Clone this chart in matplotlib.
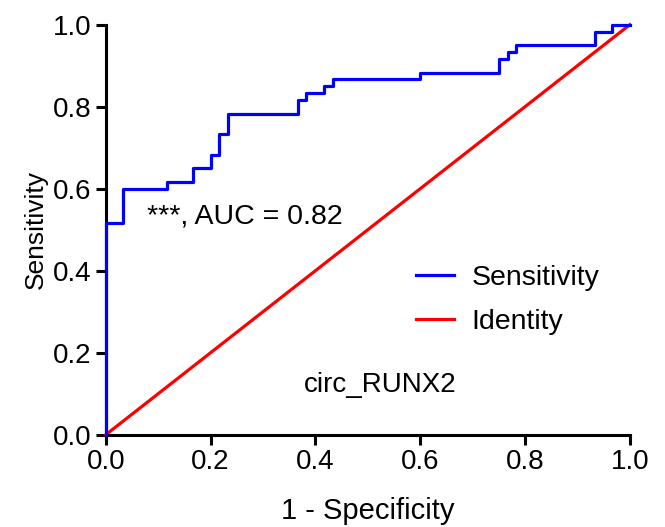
import matplotlib
matplotlib.use("Agg")
import matplotlib.pyplot as plt

# ROC curve step points (1 - specificity, sensitivity)
fpr = [0.0, 0.0, 0.033, 0.033, 0.117, 0.117, 0.167, 0.167, 0.200, 0.200,
       0.217, 0.217, 0.233, 0.233, 0.367, 0.367, 0.383, 0.383, 0.417, 0.417,
       0.433, 0.433, 0.600, 0.600, 0.750, 0.750, 0.767, 0.767, 0.783, 0.783,
       0.933, 0.933, 0.967, 0.967, 1.0]
tpr = [0.0, 0.517, 0.517, 0.600, 0.600, 0.617, 0.617, 0.650, 0.650, 0.683,
       0.683, 0.733, 0.733, 0.783, 0.783, 0.817, 0.817, 0.833, 0.833, 0.850,
       0.850, 0.867, 0.867, 0.883, 0.883, 0.917, 0.917, 0.933, 0.933, 0.950,
       0.950, 0.983, 0.983, 1.0, 1.0]
identity = [0.0, 1.0]
ticks = [0.0, 0.2, 0.4, 0.6, 0.8, 1.0]
tick_labels = ["0.0", "0.2", "0.4", "0.6", "0.8", "1.0"]

plt.rcParams["font.family"] = ["Liberation Sans", "DejaVu Sans"]

fig = plt.figure(figsize=(6.65, 5.27), dpi=100)
ax = fig.add_axes([0.159, 0.175, 0.788, 0.778])

ax.plot(fpr, tpr, color="#0000ff", lw=2.3, label="Sensitivity", clip_on=False, zorder=3)
ax.plot(identity, identity, color="#ff0000", lw=2.3, label="Identity", clip_on=False, zorder=2)

ax.set_xlim(0, 1)
ax.set_ylim(0, 1)
ax.set_xticks(ticks)
ax.set_xticklabels(tick_labels)
ax.set_yticks(ticks)
ax.set_yticklabels(tick_labels)
ax.tick_params(labelsize=20, width=2.2, length=7, pad=3)

for side in ("top", "right"):
    ax.spines[side].set_visible(False)
for side in ("left", "bottom"):
    ax.spines[side].set_linewidth(2.2)

ax.set_xlabel("1 - Specificity", fontsize=21, labelpad=16)
ax.set_ylabel("Sensitivity", fontsize=19, labelpad=4)

ax.text(0.078, 0.533, "***, AUC = 0.82", fontsize=20.5, va="center", ha="left")
ax.text(0.378, 0.122, "circ_RUNX2", fontsize=20, va="center", ha="left")

ax.legend(loc="center left", bbox_to_anchor=(0.592, 0.329), frameon=False,
          fontsize=20.5, handlelength=1.35, handletextpad=0.6, labelspacing=0.62,
          borderpad=0, borderaxespad=0)

fig.savefig("out.png", dpi=100)
